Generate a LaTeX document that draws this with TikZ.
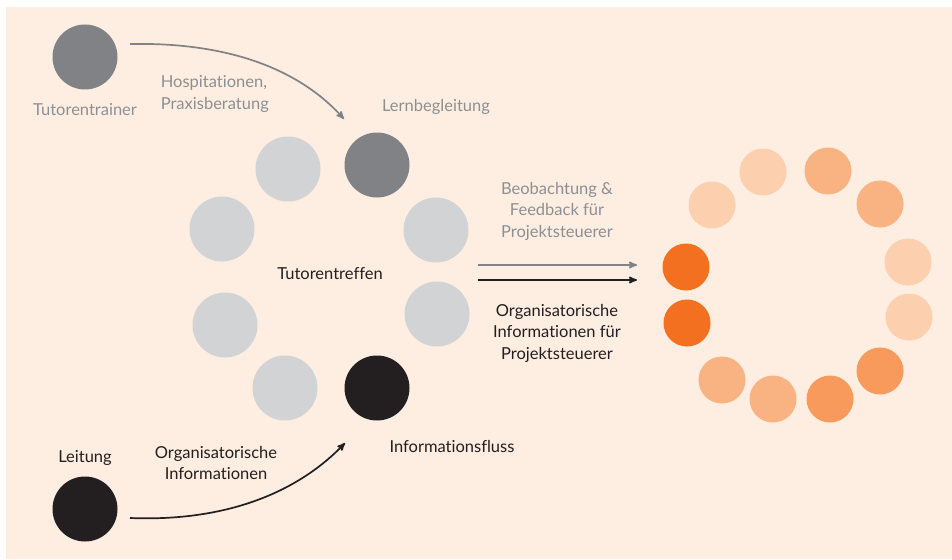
\documentclass[tikz,border=0pt]{standalone}
\usepackage{fontspec}
\setmainfont[Ligatures={NoCommon}]{Lato}
\usetikzlibrary{arrows}

\definecolor{bg}{HTML}{FDEEE1}
\definecolor{lgray}{HTML}{D1D3D4}
\definecolor{mgray}{HTML}{808285}
\definecolor{tgray}{HTML}{8D8F92}
\definecolor{dark}{HTML}{231F20}
\definecolor{orA}{HTML}{FCCFAF}
\definecolor{orB}{HTML}{F9B383}
\definecolor{orC}{HTML}{F79A5C}
\definecolor{orD}{HTML}{F37021}

\begin{document}
\begin{tikzpicture}[x=1pt,y=-1pt,>=stealth',line width=1.7pt,
  big dot/.style={circle,inner sep=0pt,minimum size=65pt},
  small dot/.style={circle,inner sep=0pt,minimum size=47pt},
  txt/.style={font=\fontsize{16.5}{21.5}\selectfont,align=center,inner sep=0pt,text=dark},
  gray txt/.style={txt,text=tgray}]

  \fill[white] (0,0) rectangle (952,559);
  \fill[bg] (6,7) rectangle (952,559);

  % outside persons
  \node[big dot,fill=mgray] (trainer) at (85,57) {};
  \node[big dot,fill=dark] (leitung) at (85,509) {};
  \node[gray txt] (trainer label) at (85,110) {Tutorentrainer};
  \node[txt] (leitung label) at (85,458) {Leitung};

  % tutor meeting
  \node[big dot,fill=lgray] (t1) at (288,169) {};
  \node[big dot,fill=mgray] (t2) at (377,165) {};
  \node[big dot,fill=lgray] (t3) at (222,229) {};
  \node[big dot,fill=lgray] (t4) at (436,230) {};
  \node[big dot,fill=lgray] (t5) at (225,325) {};
  \node[big dot,fill=lgray] (t6) at (437,314) {};
  \node[big dot,fill=lgray] (t7) at (285,388) {};
  \node[big dot,fill=dark] (t8) at (377,388) {};
  \node[txt] (treffen) at (330,274) {Tutorentreffen};
  \node[gray txt] (lern) at (436,107) {Lernbegleitung};
  \node[txt] (fluss) at (452,446) {Informationsfluss};

  % project steering
  \node[small dot,fill=orA] (p1) at (763,172) {};
  \node[small dot,fill=orB] (p2) at (828,171) {};
  \node[small dot,fill=orA] (p3) at (712,205) {};
  \node[small dot,fill=orB] (p4) at (880,204) {};
  \node[small dot,fill=orD] (p5) at (686,267) {};
  \node[small dot,fill=orA] (p6) at (908,262) {};
  \node[small dot,fill=orD] (p7) at (687,323) {};
  \node[small dot,fill=orA] (p8) at (909,317) {};
  \node[small dot,fill=orB] (p9) at (722,380) {};
  \node[small dot,fill=orC] (p10) at (880,371) {};
  \node[small dot,fill=orB] (p11) at (773,399) {};
  \node[small dot,fill=orC] (p12) at (830,399) {};

  % arrows
  \coordinate (hosp start) at (130,44);
  \coordinate (hosp end) at (344,119);
  \coordinate (orga start) at (130,518);
  \coordinate (orga end) at (345,443);
  \coordinate (feed start) at (478,265);
  \coordinate (feed end) at (637,265);
  \coordinate (info start) at (478,280);
  \coordinate (info end) at (637,280);

  \draw[->,mgray] (hosp start) .. controls (230,42) and (300,70) .. (hosp end);
  \draw[->,dark] (orga start) .. controls (230,522) and (300,490) .. (orga end);
  \draw[->,mgray] (feed start) -- (feed end);
  \draw[->,dark] (info start) -- (info end);

  \node[gray txt,align=left,anchor=west] (hosp) at (160,94) {Hospitationen,\\Praxisberatung};
  \node[txt] (orga) at (216,463) {Organisatorische\\Informationen};
  \node[gray txt] (feed) at (557,211) {Beobachtung \&\\Feedback für\\Projektsteuerer};
  \node[txt] (info) at (557,333) {Organisatorische\\Informationen für\\Projektsteuerer};
\end{tikzpicture}
\end{document}
